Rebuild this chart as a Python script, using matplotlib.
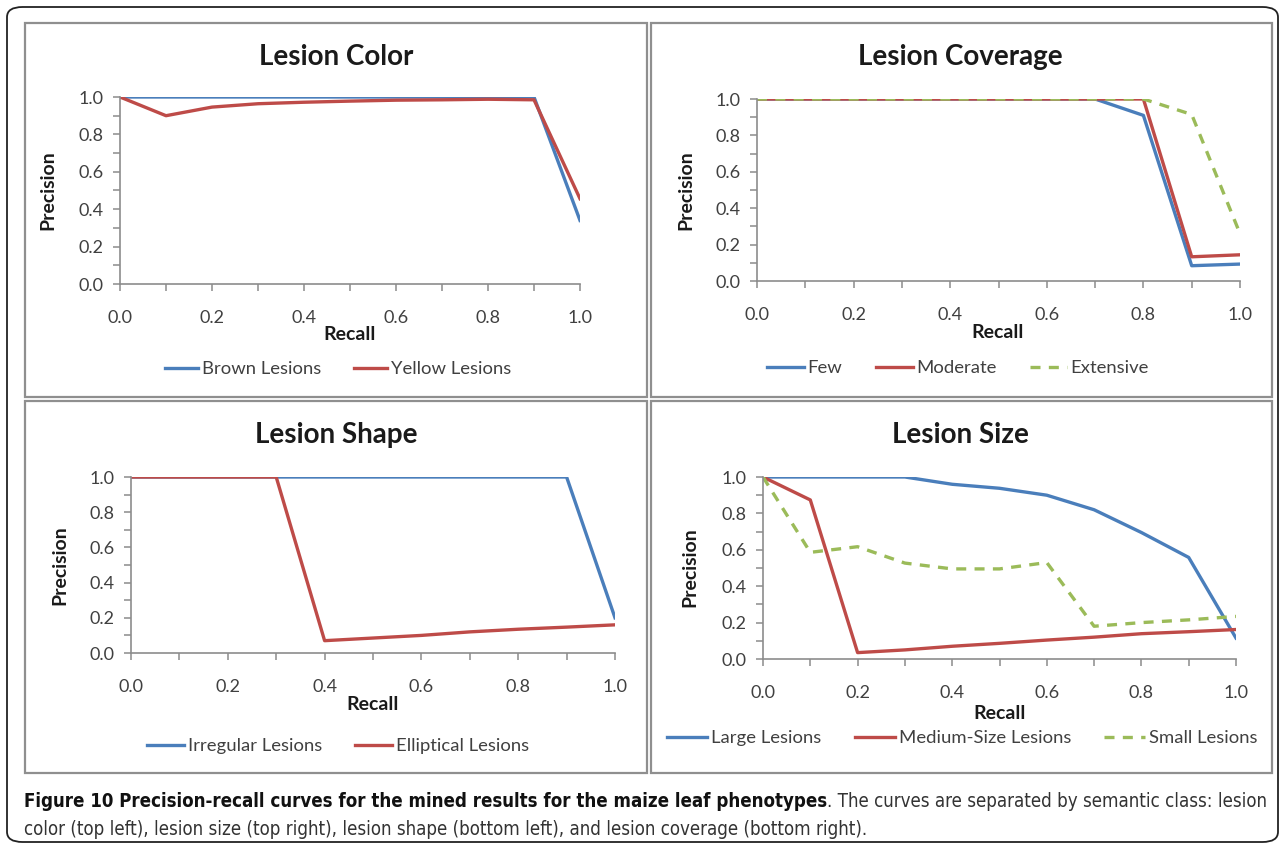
import matplotlib
matplotlib.use("Agg")
from matplotlib import pyplot as plt
from matplotlib.patches import Rectangle, FancyBboxPatch

W, H = 1287, 846
BLUE = "#4a7ebb"
RED = "#be4b48"
GREEN = "#9bbb59"
GREY_TXT = "#404040"
FONT = ["Lato", "DejaVu Sans"]

recall = [0.0, 0.1, 0.2, 0.3, 0.4, 0.5, 0.6, 0.7, 0.8, 0.9, 1.0]

# Lesion Color
brown = [1.0, 1.0, 1.0, 1.0, 1.0, 1.0, 1.0, 1.0, 1.0, 1.0, 0.34]
yellow = [1.0, 0.90, 0.946, 0.964, 0.972, 0.978, 0.983, 0.985, 0.988, 0.985, 0.456]

# Lesion Coverage
few = [1.0, 1.0, 1.0, 1.0, 1.0, 1.0, 1.0, 1.0, 0.91, 0.084, 0.093]
moderate = [1.0, 1.0, 1.0, 1.0, 1.0, 1.0, 1.0, 1.0, 1.0, 0.133, 0.144]
extensive = [1.0, 1.0, 1.0, 1.0, 1.0, 1.0, 1.0, 1.0, 1.0, 0.915, 0.26]

# Lesion Shape
irregular = [1.0, 1.0, 1.0, 1.0, 1.0, 1.0, 1.0, 1.0, 1.0, 1.0, 0.20]
elliptical = [1.0, 1.0, 1.0, 1.0, 0.07, 0.085, 0.10, 0.12, 0.135, 0.147, 0.16]

# Lesion Size
large = [1.0, 1.0, 1.0, 1.0, 0.96, 0.938, 0.90, 0.82, 0.695, 0.558, 0.115]
medium = [1.0, 0.874, 0.035, 0.05, 0.07, 0.086, 0.104, 0.12, 0.139, 0.15, 0.162]
small = [1.0, 0.586, 0.617, 0.527, 0.495, 0.495, 0.53, 0.18, 0.20, 0.215, 0.234]

yticks = [0.0, 0.2, 0.4, 0.6, 0.8, 1.0]
ytick_labels = ["0.0", "0.2", "0.4", "0.6", "0.8", "1.0"]
xtick_labels = ["0.0", "", "0.2", "", "0.4", "", "0.6", "", "0.8", "", "1.0"]

caption_bold = "Figure 10 Precision-recall curves for the mined results for the maize leaf phenotypes"
caption_rest = ". The curves are separated by semantic class: lesion"
caption_line2 = ("color (top left), lesion size (top right), lesion shape (bottom left), "
                 "and lesion coverage (bottom right).")

fig = plt.figure(figsize=(W / 100, H / 100), dpi=100)


def fx(px):
    return px / W


def fy(py):
    return 1 - py / H


def ptext(x, y, s, **kw):
    return fig.text(fx(x), fy(y), s, family=FONT, **kw)


# outer rounded frame and panel frames
fig.patches.append(FancyBboxPatch((fx(7), fy(842)), fx(1278) - fx(7), fy(7) - fy(842),
                                  boxstyle="round,pad=0,rounding_size=0.012",
                                  transform=fig.transFigure, fill=False,
                                  edgecolor="#222222", lw=1.3))
for (l, t, r, b) in [(25, 23, 647, 397), (651, 23, 1272, 397),
                     (25, 401, 647, 773), (651, 401, 1272, 773)]:
    fig.patches.append(Rectangle((fx(l), fy(b)), fx(r) - fx(l), fy(t) - fy(b),
                                 transform=fig.transFigure, fill=False,
                                 edgecolor="#8f8f8f", lw=1.6))

panels = [
    dict(title="Lesion Color", box=(120, 97, 580, 284), tpos=(336, 57), ylab=(48, 190),
         xlab=(350, 334), leg=(338, 369), hl=1.8,
         series=[(brown, "Brown Lesions", BLUE, "-"), (yellow, "Yellow Lesions", RED, "-")]),
    dict(title="Lesion Coverage", box=(757, 99, 1240, 281), tpos=(960, 57), ylab=(686, 190),
         xlab=(998, 333), leg=(958, 368), hl=2.0,
         series=[(few, "Few", BLUE, "-"), (moderate, "Moderate", RED, "-"),
                 (extensive, "Extensive", GREEN, "--")]),
    dict(title="Lesion Shape", box=(131, 477, 615, 653), tpos=(336, 435), ylab=(60, 565),
         xlab=(373, 704), leg=(338, 746), hl=2.0,
         series=[(irregular, "Irregular Lesions", BLUE, "-"),
                 (elliptical, "Elliptical Lesions", RED, "-")]),
    dict(title="Lesion Size", box=(763, 477, 1236, 659), tpos=(960, 435), ylab=(690, 567),
         xlab=(1000, 713), leg=(962, 738), hl=2.2,
         series=[(large, "Large Lesions", BLUE, "-"), (medium, "Medium-Size Lesions", RED, "-"),
                 (small, "Small Lesions", GREEN, "--")]),
]

for p in panels:
    l, t, r, b = p["box"]
    ax = fig.add_axes([fx(l), fy(b), fx(r) - fx(l), fy(t) - fy(b)])
    handles = []
    for vals, name, col, ls in p["series"]:
        h, = ax.plot(recall, vals, color=col, lw=2.4, ls=ls, label=name,
                     dashes=(3, 2.5) if ls == "--" else (None, None))
        handles.append(h)
    ax.set_xlim(0, 1)
    ax.set_ylim(0, 1)
    ax.set_xticks(recall)
    ax.set_xticklabels(xtick_labels)
    ax.set_yticks(yticks)
    ax.set_yticklabels(ytick_labels)
    ax.set_yticks(recall, minor=True)
    for s in ["top", "right"]:
        ax.spines[s].set_visible(False)
    for s in ["left", "bottom"]:
        ax.spines[s].set_color("#8c8c8c")
        ax.spines[s].set_linewidth(1.2)
    ax.tick_params(axis="y", which="both", direction="out", length=5, width=1.1,
                   color="#8c8c8c", pad=7, labelsize=13, labelcolor=GREY_TXT)
    ax.tick_params(axis="x", which="both", direction="out", length=5, width=1.1,
                   color="#8c8c8c", pad=14, labelsize=13, labelcolor=GREY_TXT)
    for lab in ax.get_xticklabels() + ax.get_yticklabels():
        lab.set_family(FONT)

    ptext(*p["tpos"], p["title"], fontsize=20, fontweight="bold", ha="center", va="center",
          color="#1a1a1a")
    ptext(*p["ylab"], "Precision", fontsize=14, fontweight="bold", ha="center",
          va="center", rotation=90, color="#1a1a1a")
    ptext(*p["xlab"], "Recall", fontsize=14, fontweight="bold", ha="center",
          va="center", color="#1a1a1a")
    leg = ax.legend(handles=handles, loc="center", bbox_to_anchor=(fx(p["leg"][0]), fy(p["leg"][1])),
                    bbox_transform=fig.transFigure, ncol=len(handles), frameon=False,
                    handlelength=p["hl"], handletextpad=0.2, columnspacing=1.8,
                    prop=dict(family=FONT, size=13.3))
    for txt in leg.get_texts():
        txt.set_color(GREY_TXT)

# caption, sized so that the first line spans the frame
CAP_FONT = ["DejaVu Sans"]
renderer = fig.canvas.get_renderer()
size = 12.0
bold = fig.text(fx(24), fy(801), caption_bold, family=CAP_FONT, fontstretch="condensed",
                fontsize=size, fontweight="bold", va="center", color="#111111")
rest = fig.text(0, fy(801), caption_rest, family=CAP_FONT, fontstretch="condensed",
                fontsize=size, va="center", color="#333333")
total = bold.get_window_extent(renderer).width + rest.get_window_extent(renderer).width
size = size * (1268 - 24) / total
bold.set_fontsize(size)
rest.set_fontsize(size)
rest.set_x(bold.get_window_extent(renderer).x1 / W)
fig.text(fx(24), fy(829), caption_line2, family=CAP_FONT, fontstretch="condensed",
         fontsize=size, va="center", color="#333333")

fig.savefig("out.png", dpi=100)
